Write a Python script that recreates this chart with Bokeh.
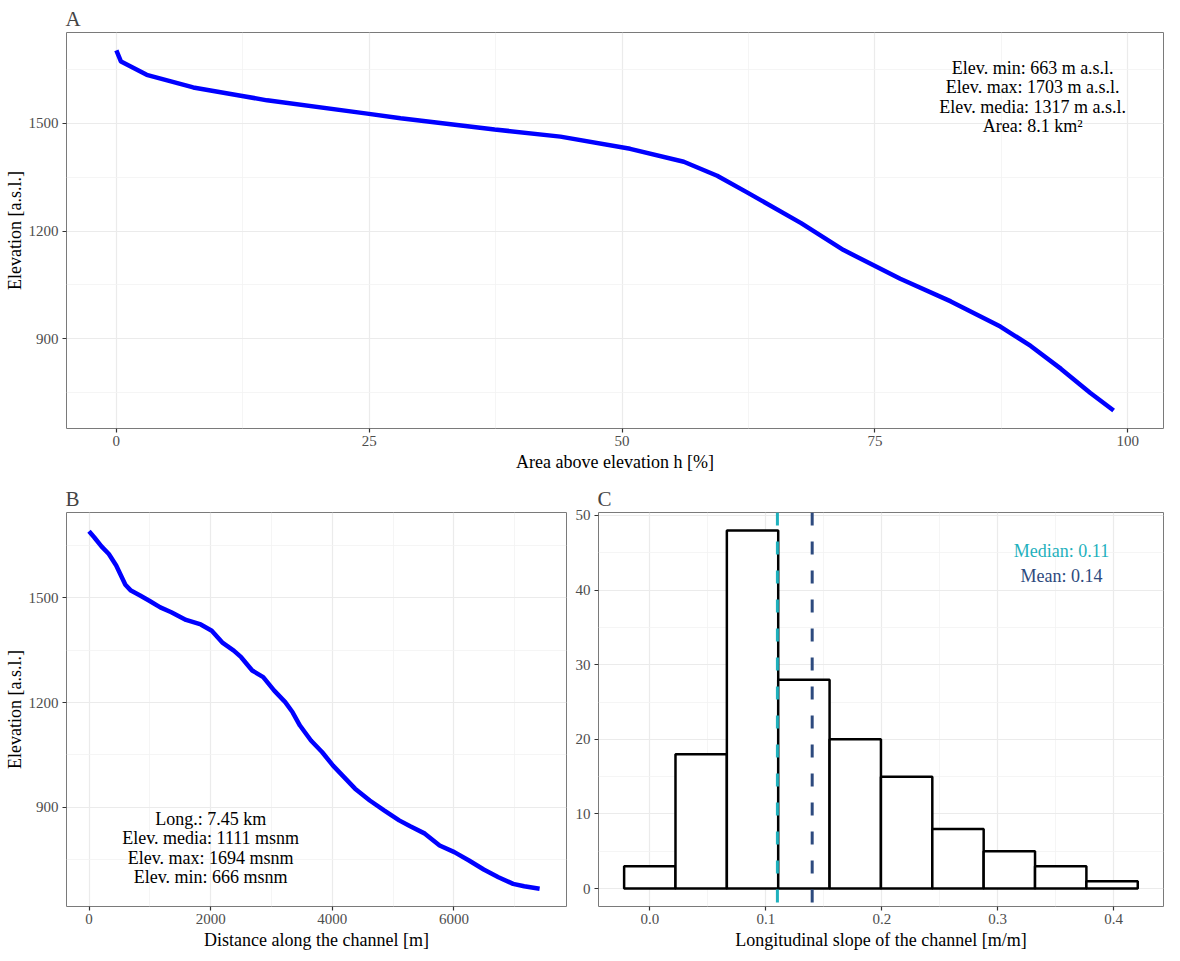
from bokeh.plotting import figure
from bokeh.layouts import column, row
from bokeh.models import Range1d, FixedTicker, Span, PrintfTickFormatter
from bokeh.core.properties import value
from bokeh.embed import file_html
from bokeh.resources import INLINE

FONT = "Liberation Serif"

# ---- Panel A: hypsometric curve ----
area_pct = [0.0, 0.46, 3.0, 7.6, 12.3, 14.9, 24.8, 28.1, 37.4, 43.9, 50.8, 56.1, 59.4,
            62.4, 67.7, 71.9, 77.5, 82.5, 87.4, 90.4, 93.4, 96.3, 98.6]
elev_a = [1703, 1672, 1635, 1600, 1577, 1564, 1527, 1514, 1483, 1463, 1429, 1393, 1354,
          1307, 1222, 1147, 1067, 1004, 934, 880, 816, 749, 700]
text_a = "Elev. min: 663 m a.s.l.\nElev. max: 1703 m a.s.l.\nElev. media: 1317 m a.s.l.\nArea: 8.1 km\u00b2"

# ---- Panel B: longitudinal profile ----
dist_b = [0, 85, 205, 326, 447, 598, 689, 840, 991, 1172, 1353, 1595, 1837, 2018, 2199,
          2380, 2501, 2683, 2864, 3045, 3226, 3347, 3468, 3649, 3831, 4012, 4193, 4374,
          4616, 4857, 5099, 5281, 5522, 5764, 6006, 6247, 6489, 6731, 6972, 7154, 7408]
elev_b = [1691, 1674, 1648, 1626, 1593, 1538, 1521, 1507, 1492, 1473, 1459, 1437, 1424,
          1406, 1371, 1349, 1330, 1292, 1273, 1234, 1201, 1172, 1134, 1091, 1058, 1019,
          986, 953, 919, 890, 862, 845, 824, 790, 771, 747, 721, 699, 680, 673, 666]
text_b = "Long.: 7.45 km\nElev. media: 1111 msnm\nElev. max: 1694 msnm\nElev. min: 666 msnm"

# ---- Panel C: slope histogram ----
bin_edges = [-0.0222, 0.0221, 0.0664, 0.1107, 0.1550, 0.1993, 0.2436, 0.2879, 0.3322,
             0.3765, 0.4208]
counts = [3, 18, 48, 28, 20, 15, 8, 5, 3, 1]
median_slope = 0.11
mean_slope = 0.14
MEDIAN_COLOR = "#1fb1bd"
MEAN_COLOR = "#2d4a7e"

TICK_FS = "15px"
LABEL_FS = "18px"


def style(p, xticks, xminor, yticks, yminor, xlabel, ylabel):
    p.background_fill_color = "white"
    p.border_fill_color = "white"
    p.outline_line_color = "#7a7a7a"
    p.outline_line_width = 1
    p.xaxis.ticker = FixedTicker(ticks=xticks, minor_ticks=xminor)
    p.yaxis.ticker = FixedTicker(ticks=yticks, minor_ticks=yminor)
    for ax in (p.xaxis, p.yaxis):
        ax.axis_line_color = None
        ax.major_tick_line_color = "#333333"
        ax.major_tick_line_width = 1.2
        ax.major_tick_out = 4
        ax.major_tick_in = 0
        ax.minor_tick_line_color = None
        ax.major_label_text_font = FONT
        ax.major_label_text_font_size = TICK_FS
        ax.major_label_text_color = "#4d4d4d"
        ax.axis_label_text_font = FONT
        ax.axis_label_text_font_size = LABEL_FS
        ax.axis_label_text_font_style = "normal"
        ax.axis_label_text_color = "black"
    p.xaxis.major_label_standoff = 3
    p.xaxis.axis_label_standoff = 3
    p.yaxis.major_label_standoff = 4
    p.yaxis.axis_label_standoff = 1
    p.xaxis.axis_label = xlabel
    p.yaxis.axis_label = ylabel
    for g in (p.xgrid, p.ygrid):
        g.grid_line_color = "#ebebeb"
        g.grid_line_width = 1.2
        g.minor_grid_line_color = "#f2f2f2"
        g.minor_grid_line_width = 0.8
    p.title.text_font = FONT
    p.title.text_font_size = "21px"
    p.title.text_font_style = "normal"
    p.title.align = "left"
    p.title.standoff = 3
    p.title.offset = -1


# Panel A
pA = figure(width=1180, height=478, output_backend="svg", toolbar_location=None,
            x_range=Range1d(-4.93, 103.53), y_range=Range1d(650, 1753),
            min_border_left=66, min_border_right=17, min_border_top=32, min_border_bottom=50,
            title="A")
style(pA, [0, 25, 50, 75, 100], [12.5, 37.5, 62.5, 87.5],
      [900, 1200, 1500], [750, 1050, 1350, 1650],
      "Area above elevation h [%]", "Elevation [a.s.l.]")
pA.line(area_pct, elev_a, line_color="blue", line_width=4.5)
pA.text(x=[90.6], y=[1573], text=[text_a], text_font=value(FONT), text_font_size=LABEL_FS,
        text_align="center", text_baseline="middle", text_line_height=0.97, text_color="black")

# Panel B
pB = figure(width=572, height=483, output_backend="svg", toolbar_location=None,
            x_range=Range1d(-370, 7850), y_range=Range1d(615, 1745),
            min_border_left=66, min_border_right=6, min_border_top=34, min_border_bottom=55,
            title="B")
style(pB, [0, 2000, 4000, 6000], [1000, 3000, 5000, 7000],
      [900, 1200, 1500], [750, 1050, 1350, 1650],
      "Distance along the channel [m]", "Elevation [a.s.l.]")
pB.line(dist_b, elev_b, line_color="blue", line_width=4.5)
pB.text(x=[2000], y=[783], text=[text_b], text_font=value(FONT), text_font_size=LABEL_FS,
        text_align="center", text_baseline="middle", text_line_height=0.97, text_color="black")

# Panel C
pC = figure(width=608, height=483, output_backend="svg", toolbar_location=None,
            x_range=Range1d(-0.0443, 0.443), y_range=Range1d(-2.4, 50.4),
            min_border_left=26, min_border_right=17, min_border_top=34, min_border_bottom=55,
            title="C")
style(pC, [0.0, 0.1, 0.2, 0.3, 0.4], [0.05, 0.15, 0.25, 0.35],
      [0, 10, 20, 30, 40, 50], [5, 15, 25, 35, 45],
      "Longitudinal slope of the channel [m/m]", "")
pC.xaxis.formatter = PrintfTickFormatter(format="%.1f")
pC.quad(left=bin_edges[:-1], right=bin_edges[1:], top=counts, bottom=0,
        fill_color="white", line_color="black", line_width=2.5)
pC.add_layout(Span(location=median_slope, dimension="height", line_color=MEDIAN_COLOR,
                   line_width=3, line_dash="13 16"))
pC.add_layout(Span(location=mean_slope, dimension="height", line_color=MEAN_COLOR,
                   line_width=3, line_dash="13 16"))
pC.text(x=[0.355, 0.355], y=[45.2, 41.9], text=["Median: 0.11", "Mean: 0.14"],
        text_color=[MEDIAN_COLOR, MEAN_COLOR], text_font=value(FONT), text_font_size=LABEL_FS,
        text_align="center", text_baseline="middle")

layout = column(pA, row(pB, pC))
open("out.html", "w").write(file_html(layout, INLINE))
